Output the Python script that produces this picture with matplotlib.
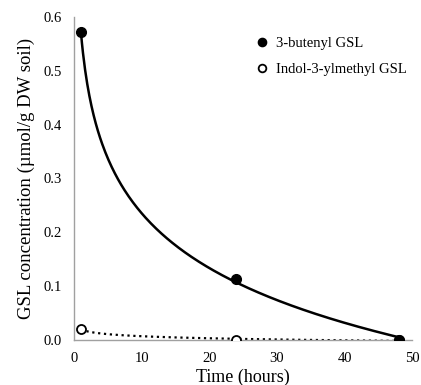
import numpy as np
import matplotlib.pyplot as plt

# Data
time_h = [1, 24, 48]
butenyl = [0.572, 0.113, 0.0]
indolyl = [0.020, 0.0, 0.0]

plt.rcParams['font.family'] = ['Liberation Serif', 'DejaVu Serif']

fig = plt.figure(figsize=(4.21, 3.85), dpi=100)
ax = fig.add_axes([0.176, 0.117, 0.803, 0.839])

# logarithmic trendlines (as in the spreadsheet chart)
xs = np.linspace(min(time_h), max(time_h), 300)
for ys, style in [(butenyl, '-'), (indolyl, ':')]:
    slope, icpt = np.polyfit(np.log(time_h), ys, 1)
    ax.plot(xs, icpt + slope * np.log(xs), color='black', ls=style,
            lw=1.8 if style == '-' else 1.6, zorder=2)

ax.plot(time_h, indolyl, 'o', ms=6.5, mfc='white', mec='black', mew=1.3,
        label='Indol-3-ylmethyl GSL', zorder=3)
ax.plot(time_h, butenyl, 'o', ms=7, color='black',
        label='3-butenyl GSL', zorder=4)

ax.set_xlim(0, 50)
ax.set_ylim(0, 0.6)
ax.set_xticks(range(0, 51, 10))
ax.set_yticks(np.arange(0, 0.61, 0.1))
ax.yaxis.set_major_formatter(plt.FormatStrFormatter('%.1f'))
ax.tick_params(length=0, labelsize=10.5, pad=9)
for s in ['top', 'right']:
    ax.spines[s].set_visible(False)
for s in ['left', 'bottom']:
    ax.spines[s].set_color('#a0a0a0')
    ax.spines[s].set_linewidth(1)
ax.set_clip_on(False)

ax.set_xlabel('Time (hours)', fontsize=13, labelpad=2)
ax.set_ylabel('GSL concentration (µmol/g DW soil)', fontsize=13.5, labelpad=6)

h, l = ax.get_legend_handles_labels()
ax.legend(h[::-1], l[::-1], loc='upper left', bbox_to_anchor=(0.494, 0.98),
          frameon=False, fontsize=10.5, handlelength=1, handletextpad=0.5,
          labelspacing=0.9, markerscale=0.85)

fig.savefig('out.png', dpi=100)
